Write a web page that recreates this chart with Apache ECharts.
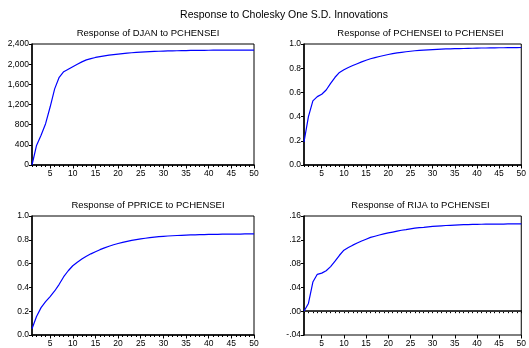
<!DOCTYPE html>
<html><head><meta charset="utf-8">
<script src="https://cdn.jsdelivr.net/npm/echarts@6/dist/echarts.min.js"></script>
<style>html,body{margin:0;padding:0;background:#fff}#c{width:529px;height:348px}</style>
</head><body><div id="c"></div>
<script>
const periods = Array.from({length:50},(_,i)=>String(i+1));
const mainTitle = "Response to Cholesky One S.D. Innovations";
const panelTitles = ["Response of DJAN to PCHENSEI","Response of PCHENSEI to PCHENSEI","Response of PPRICE to PCHENSEI","Response of RIJA to PCHENSEI"];
const djan = [0,387,590,820,1150,1510,1740,1850,1900,1950,2000,2045,2085,2110,2133,2150,2165,2178,2190,2200,2210,2218,2226,2233,2240,2244,2248,2252,2256,2259,2262,2264,2266,2268,2270,2272,2273,2274,2275,2276,2277,2277,2278,2278,2278,2279,2279,2279,2280,2280];
const pchensei = [0.19,0.40,0.53,0.565,0.585,0.62,0.675,0.725,0.765,0.787,0.806,0.822,0.837,0.852,0.866,0.878,0.888,0.897,0.905,0.913,0.92,0.926,0.931,0.936,0.94,0.944,0.947,0.95,0.952,0.954,0.956,0.958,0.959,0.96,0.961,0.962,0.963,0.964,0.965,0.966,0.967,0.967,0.968,0.968,0.969,0.969,0.97,0.97,0.97,0.971];
const pprice = [0.053,0.156,0.23,0.28,0.323,0.37,0.426,0.49,0.54,0.582,0.612,0.638,0.662,0.682,0.70,0.717,0.732,0.746,0.758,0.769,0.778,0.787,0.795,0.802,0.808,0.813,0.818,0.822,0.826,0.829,0.832,0.834,0.836,0.838,0.84,0.841,0.842,0.843,0.844,0.845,0.846,0.846,0.847,0.847,0.848,0.848,0.848,0.849,0.849,0.849];
const rija = [0,0.013,0.049,0.062,0.064,0.068,0.075,0.084,0.094,0.1025,0.107,0.111,0.1145,0.118,0.121,0.124,0.126,0.128,0.13,0.1315,0.133,0.1345,0.136,0.1372,0.1385,0.1395,0.1403,0.141,0.1418,0.1425,0.143,0.1435,0.144,0.1444,0.1448,0.1451,0.1454,0.1456,0.1458,0.146,0.1461,0.1462,0.1463,0.1464,0.1465,0.1465,0.1466,0.1466,0.1466,0.1466];
const yMin = [0,0,0,-0.04], yMax=[2400,1,1,0.16], yInt=[400,0.2,0.2,0.04];
const seriesData = [djan,pchensei,pprice,rija];

const FONT = "Liberation Sans";
const grids = [
  {left:32, top:44, width:222, height:121},
  {left:304, top:44, width:223, height:121},
  {left:32, top:216, width:222, height:119},
  {left:304, top:216, width:223, height:119}
];
const fmt = [
  v => Math.round(v).toLocaleString('en-US'),
  v => v.toFixed(1),
  v => v.toFixed(1),
  v => { let s = (Math.round(v*100)/100).toFixed(2); return s.replace(/^(-?)0\./,'$1.'); }
];
const option = {
  animation:false,
  title: [{text: mainTitle, left: 279, top: 5, textAlign:'center', textStyle:{fontFamily:FONT,fontSize:10.5,fontWeight:'normal',color:'#000'}}]
    .concat(grids.map((g,i)=>({text: panelTitles[i], left: g.left+g.width/2, top: g.top-21, textAlign:'center', textStyle:{fontFamily:FONT,fontSize:9.5,fontWeight:'normal',color:'#000'}}))),
  grid: grids.map(g=>Object.assign({show:true, borderColor:'#000', borderWidth:1, containLabel:false}, g)),
  xAxis: [].concat(...grids.map((g,i)=>[
    {type:'category', gridIndex:i, data:periods, boundaryGap:false,
     axisLine:{lineStyle:{color:'#000',width:1.5}},
     axisTick:{interval:0, length:2, lineStyle:{color:'#000'}},
     axisLabel:{interval:(idx,v)=>Number(v)%5===0, fontFamily:FONT, fontSize:8.5, color:'#000', margin:4},
     splitLine:{show:false}},
    {type:'category', gridIndex:i, data:periods, boundaryGap:false, position:'bottom',
     axisLine:{show:false},
     axisTick:{interval:(idx,v)=>Number(v)%5===0, length:3.5, lineStyle:{color:'#000'}},
     axisLabel:{show:false}, splitLine:{show:false}}
  ])),
  yAxis: grids.map((g,i)=>({type:'value', gridIndex:i, min:yMin[i], max:yMax[i], interval:yInt[i],
    axisLine:{show:true, lineStyle:{color:'#000',width:1.5}},
    axisTick:{show:true, length:3, lineStyle:{color:'#000'}},
    axisLabel:{formatter:fmt[i], fontFamily:FONT, fontSize:8.5, color:'#000', margin:3},
    splitLine:{show:false}})),
  series: seriesData.map((d,i)=>{
    const s = {type:'line', xAxisIndex:i*2, yAxisIndex:i, data:d, showSymbol:false, symbol:'none',
      lineStyle:{color:'#0000ff', width:1.2}, itemStyle:{color:'#0000ff'}};
    if (i===3) s.markLine = {silent:true, symbol:'none', label:{show:false}, lineStyle:{color:'#333', type:'solid', width:1}, data:[{yAxis:0}]};
    return s;
  })
};
echarts.init(document.getElementById('c')).setOption(option);
</script></body></html>
